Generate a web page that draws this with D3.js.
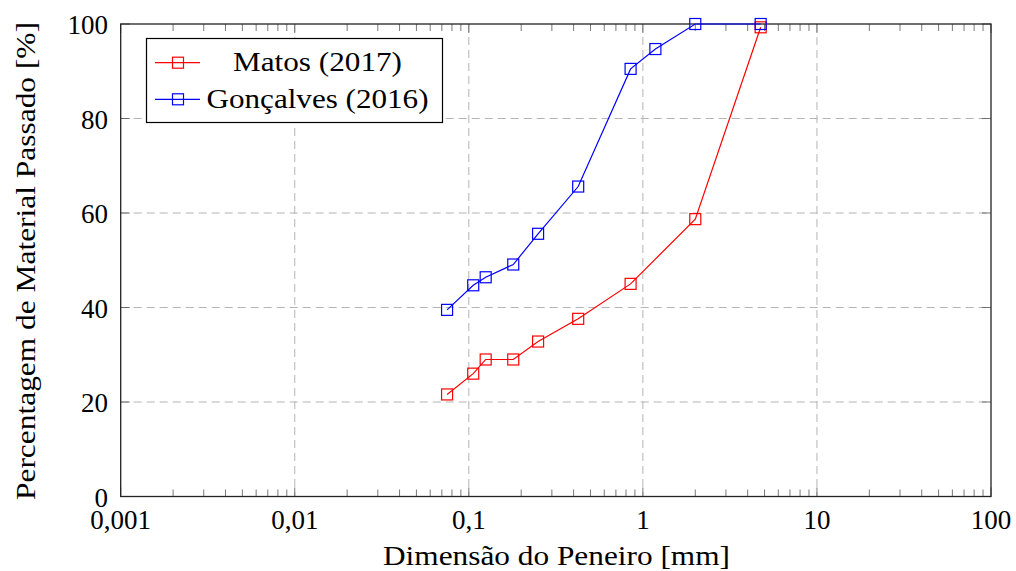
<!DOCTYPE html>
<html><head><meta charset="utf-8">
<script src="https://cdn.jsdelivr.net/npm/d3@7"></script>
<style>body{margin:0;background:#fff}svg{display:block}text{font-family:"Liberation Serif",serif;fill:#000}</style>
</head><body><svg id="c" width="1016" height="571"></svg>
<script>
const sieveMatos = [0.075,0.106,0.125,0.18,0.25,0.425,0.85,2.0,4.75];
const passMatos = [21.6,26.0,29.0,29.0,32.8,37.6,45.0,58.7,99.3];
const sieveGon = [0.075,0.106,0.125,0.18,0.25,0.425,0.85,1.18,2.0,4.75];
const passGon = [39.5,44.7,46.4,49.1,55.6,65.6,90.5,94.7,100,100];
const xTicks = [0.001,0.01,0.1,1,10,100];
const xTickLabels = ["0,001","0,01","0,1","1","10","100"];
const yTicks = [0,20,40,60,80,100];
const seriesNames = ["Matos (2017)","Gonçalves (2016)"];
const seriesColors = ["#ff0000","#0000ff"];

const svg = d3.select("#c");
const L=120.7,R=991,T=24,B=496.5;
const x = d3.scaleLog().domain([0.001,100]).range([L,R]);
const y = d3.scaleLinear().domain([0,100]).range([B,T]);
const gridC="#b4b4b4";
svg.append("g").selectAll("line").data(xTicks.slice(1,-1)).join("line")
  .attr("x1",d=>x(d)).attr("x2",d=>x(d)).attr("y1",T).attr("y2",B)
  .attr("stroke",gridC).attr("stroke-dasharray","8,5").attr("stroke-width",1);
svg.append("g").selectAll("line").data(yTicks.slice(1,-1)).join("line")
  .attr("y1",d=>y(d)).attr("y2",d=>y(d)).attr("x1",L).attr("x2",R)
  .attr("stroke",gridC).attr("stroke-dasharray","8,5").attr("stroke-width",1);
const minors=[];
for(let e=-3;e<2;e++) for(let m=2;m<=9;m++) minors.push(m*Math.pow(10,e));
const tc="#555";
[B,T].forEach((yy,i)=>{
  svg.append("g").selectAll("line").data(minors).join("line")
   .attr("x1",d=>x(d)).attr("x2",d=>x(d)).attr("y1",yy).attr("y2",i==0?yy-7:yy+7)
   .attr("stroke",tc).attr("stroke-width",0.8);
  svg.append("g").selectAll("line").data(xTicks).join("line")
   .attr("x1",d=>x(d)).attr("x2",d=>x(d)).attr("y1",yy).attr("y2",i==0?yy-9:yy+9)
   .attr("stroke",tc).attr("stroke-width",0.8);
});
[L,R].forEach((xx,i)=>{
  svg.append("g").selectAll("line").data(yTicks).join("line")
   .attr("y1",d=>y(d)).attr("y2",d=>y(d)).attr("x1",xx).attr("x2",i==0?xx+9:xx-9)
   .attr("stroke",tc).attr("stroke-width",0.8);
});
svg.append("rect").attr("x",L).attr("y",T).attr("width",R-L).attr("height",B-T)
  .attr("fill","none").attr("stroke","#222").attr("stroke-width",1.3);
// tick labels
svg.append("g").selectAll("text").data(xTicks).join("text")
  .attr("x",d=>x(d)).attr("y",529).attr("text-anchor","middle").attr("font-size",27)
  .text((d,i)=>xTickLabels[i]);
svg.append("g").selectAll("text").data(yTicks).join("text")
  .attr("x",108).attr("y",d=>y(d)+10).attr("text-anchor","end").attr("font-size",27)
  .text(d=>d);
svg.append("text").attr("x",556.5).attr("y",565).attr("text-anchor","middle").attr("font-size",28)
  .attr("textLength",347).attr("lengthAdjust","spacingAndGlyphs")
  .text("Dimensão do Peneiro [mm]");
svg.append("text").attr("transform","translate(35,261) rotate(-90)").attr("text-anchor","middle").attr("font-size",28)
  .attr("textLength",478).attr("lengthAdjust","spacingAndGlyphs")
  .text("Percentagem de Material Passado [%]");
const series=[[sieveMatos,passMatos],[sieveGon,passGon]];
const line=d3.line().x(d=>x(d[0])).y(d=>y(d[1]));
const S=11;
series.forEach(([xs,ys],k)=>{
  const pts=xs.map((v,i)=>[v,ys[i]]);
  svg.append("path").datum(pts).attr("d",line).attr("fill","none")
    .attr("stroke",seriesColors[k]).attr("stroke-width",1.2);
  svg.append("g").selectAll("rect").data(pts).join("rect")
    .attr("x",d=>x(d[0])-S/2).attr("y",d=>y(d[1])-S/2).attr("width",S).attr("height",S)
    .attr("fill","none").attr("stroke",seriesColors[k]).attr("stroke-width",1.2);
});
const lg=svg.append("g");
lg.append("rect").attr("x",146.5).attr("y",38.5).attr("width",296).attr("height",84)
  .attr("fill","#fff").attr("stroke","#000").attr("stroke-width",1.2);
const legendLens=[169,222];
seriesNames.forEach((n,i)=>{
  const cy=62.7+i*36.6;
  lg.append("line").attr("x1",155).attr("x2",200).attr("y1",cy).attr("y2",cy)
    .attr("stroke",seriesColors[i]).attr("stroke-width",1.2);
  lg.append("rect").attr("x",178-S/2).attr("y",cy-S/2).attr("width",S).attr("height",S)
    .attr("fill","none").attr("stroke",seriesColors[i]).attr("stroke-width",1.2);
  lg.append("text").attr("x",317.5).attr("y",cy+8.5).attr("text-anchor","middle").attr("font-size",28)
    .attr("textLength",legendLens[i]).attr("lengthAdjust","spacingAndGlyphs").text(n);
});
</script></body></html>
